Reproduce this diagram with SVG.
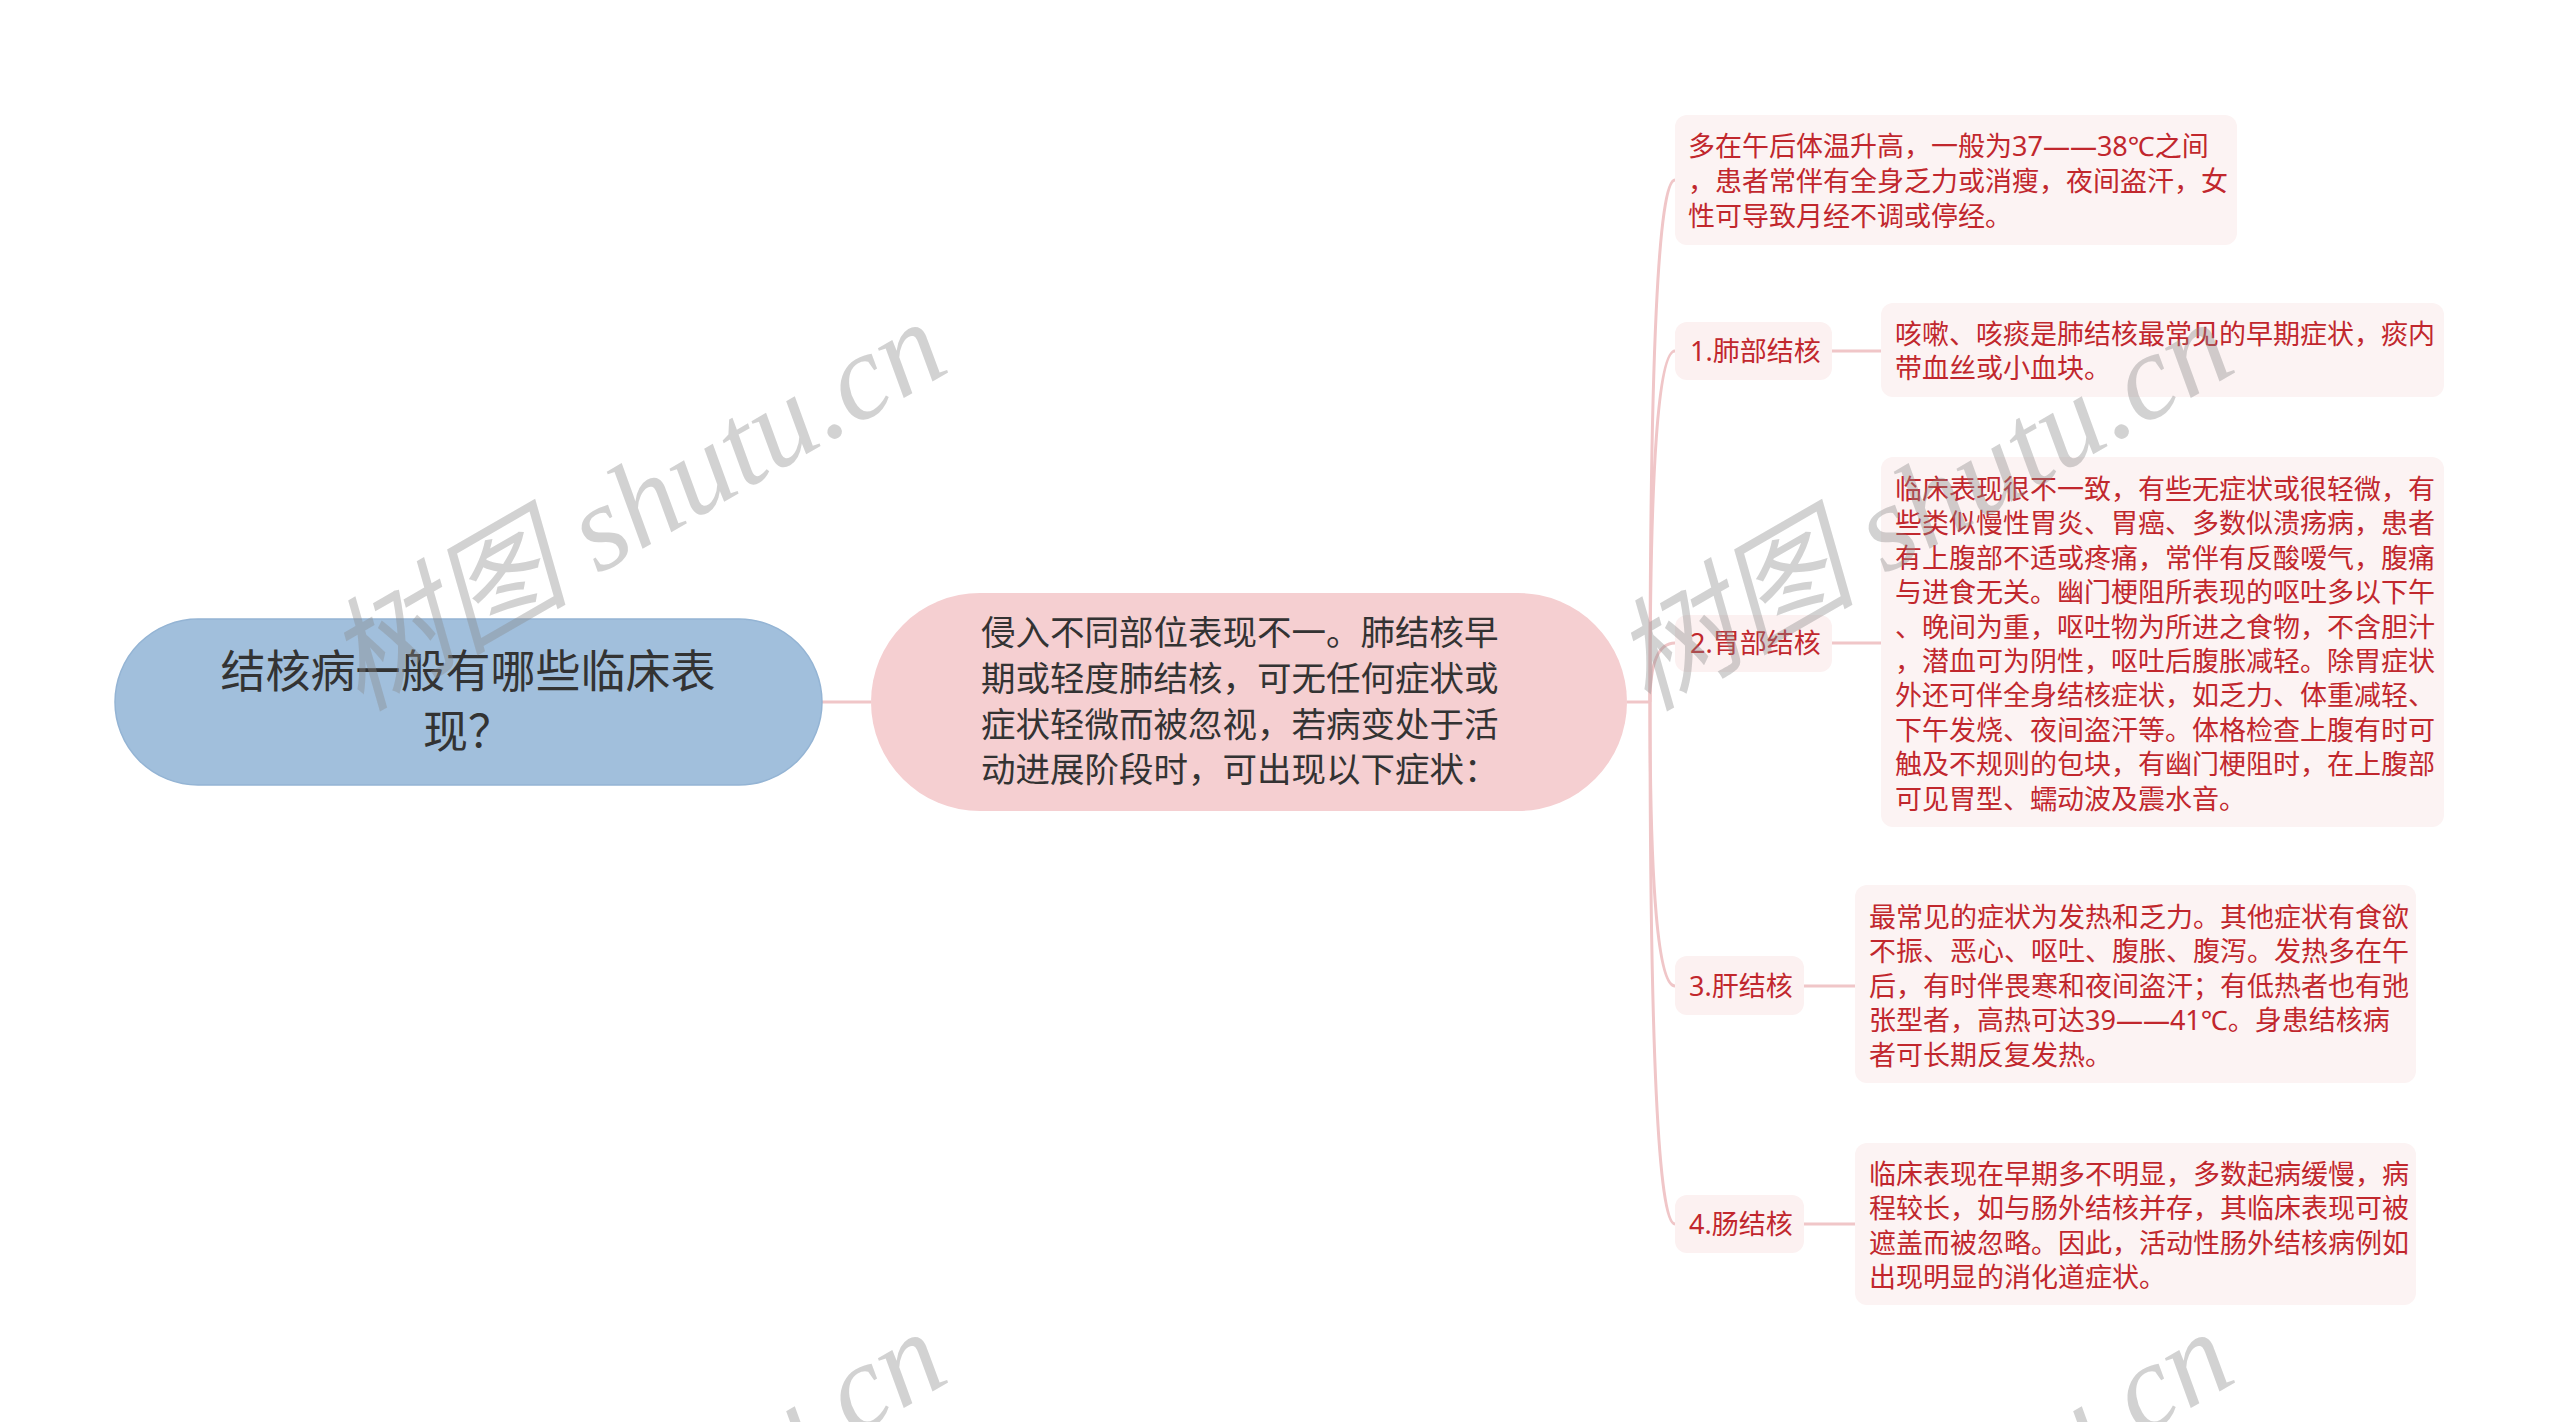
<svg xmlns="http://www.w3.org/2000/svg" width="2560" height="1422" viewBox="0 0 2560 1422">
<style>
.bg{fill:#ffffff}
.conn{fill:none;stroke:#f0c6c8;stroke-width:3}
.root{fill:#a1bfdc;stroke:#94b4d4;stroke-width:1.5}
.center{fill:#f5cfd1}
.lab{fill:#fcf1f1}
.box{fill:#fcf3f3}
.t{font-family:"Noto Sans","Noto Sans CJK SC",sans-serif}
.dark{fill:#333333}
.red{fill:#c1272d;font-size:27px}
.wm{font-family:"Liberation Serif","Noto Sans CJK SC",serif;font-style:italic;font-size:122px;fill:#888888;fill-opacity:0.38}
</style>
<rect class="bg" x="0" y="0" width="2560" height="1422"/>
<g id="connectors">
<path class="conn" d="M822 702 H871"/>
<path class="conn" d="M1627 702 H1650"/>
<path class="conn" d="M1650 702 Q1650 180 1675 180"/>
<path class="conn" d="M1650 702 Q1650 351 1675 351"/>
<path class="conn" d="M1650 702 Q1650 643 1675 643"/>
<path class="conn" d="M1650 702 Q1650 986 1675 986"/>
<path class="conn" d="M1650 702 Q1650 1224 1675 1224"/>
<path class="conn" d="M1832 351 H1881"/>
<path class="conn" d="M1832 643 H1881"/>
<path class="conn" d="M1804 986 H1855"/>
<path class="conn" d="M1804 1224 H1855"/>
</g>
<g id="root">
<rect class="root" x="115" y="619" width="707" height="166" rx="83"/>
<text class="t dark" font-size="45" text-anchor="middle"><tspan x="468" y="688">结核病一般有哪些临床表</tspan><tspan x="468" y="748">现？</tspan></text>
</g>
<g id="center">
<rect class="center" x="871" y="593" width="756" height="218" rx="109"/>
<text class="t dark" font-size="34.5"><tspan x="981" y="645">侵入不同部位表现不一。肺结核早</tspan><tspan x="981" y="691">期或轻度肺结核，可无任何症状或</tspan><tspan x="981" y="737">症状轻微而被忽视，若病变处于活</tspan><tspan x="981" y="782">动进展阶段时，可出现以下症状：</tspan></text>
</g>
<g id="n0">
<rect class="box" x="1675" y="115" width="562" height="130" rx="12"/>
<text class="t red"><tspan x="1688" y="156">多在午后体温升高，一般为37——38℃之间</tspan><tspan x="1688" y="191">，患者常伴有全身乏力或消瘦，夜间盗汗，女</tspan><tspan x="1688" y="226">性可导致月经不调或停经。</tspan></text>
</g>
<g id="n1">
<rect class="lab" x="1675" y="322" width="157" height="58" rx="12"/>
<text class="t red" x="1690" y="361">1.肺部结核</text>
</g>
<g id="n1c">
<rect class="box" x="1881" y="303" width="563" height="94" rx="12"/>
<text class="t red"><tspan x="1895" y="344">咳嗽、咳痰是肺结核最常见的早期症状，痰内</tspan><tspan x="1895" y="378">带血丝或小血块。</tspan></text>
</g>
<g id="n2">
<rect class="lab" x="1675" y="615" width="157" height="57" rx="12"/>
<text class="t red" x="1690" y="653">2.胃部结核</text>
</g>
<g id="n2c">
<rect class="box" x="1881" y="457" width="563" height="370" rx="12"/>
<text class="t red"><tspan x="1895" y="499">临床表现很不一致，有些无症状或很轻微，有</tspan><tspan x="1895" y="533.4">些类似慢性胃炎、胃癌、多数似溃疡病，患者</tspan><tspan x="1895" y="567.8">有上腹部不适或疼痛，常伴有反酸嗳气，腹痛</tspan><tspan x="1895" y="602.2">与进食无关。幽门梗阻所表现的呕吐多以下午</tspan><tspan x="1895" y="636.6">、晚间为重，呕吐物为所进之食物，不含胆汁</tspan><tspan x="1895" y="671">，潜血可为阴性，呕吐后腹胀减轻。除胃症状</tspan><tspan x="1895" y="705.4">外还可伴全身结核症状，如乏力、体重减轻、</tspan><tspan x="1895" y="739.8">下午发烧、夜间盗汗等。体格检查上腹有时可</tspan><tspan x="1895" y="774.2">触及不规则的包块，有幽门梗阻时，在上腹部</tspan><tspan x="1895" y="808.6">可见胃型、蠕动波及震水音。</tspan></text>
</g>
<g id="n3">
<rect class="lab" x="1675" y="956" width="129" height="59" rx="12"/>
<text class="t red" x="1689" y="996">3.肝结核</text>
</g>
<g id="n3c">
<rect class="box" x="1855" y="885" width="561" height="198" rx="12"/>
<text class="t red"><tspan x="1869" y="927">最常见的症状为发热和乏力。其他症状有食欲</tspan><tspan x="1869" y="961.4">不振、恶心、呕吐、腹胀、腹泻。发热多在午</tspan><tspan x="1869" y="995.8">后，有时伴畏寒和夜间盗汗；有低热者也有弛</tspan><tspan x="1869" y="1030.2">张型者，高热可达39——41℃。身患结核病</tspan><tspan x="1869" y="1064.6">者可长期反复发热。</tspan></text>
</g>
<g id="n4">
<rect class="lab" x="1675" y="1195" width="129" height="58" rx="12"/>
<text class="t red" x="1689" y="1234">4.肠结核</text>
</g>
<g id="n4c">
<rect class="box" x="1855" y="1143" width="561" height="162" rx="12"/>
<text class="t red"><tspan x="1869" y="1184">临床表现在早期多不明显，多数起病缓慢，病</tspan><tspan x="1869" y="1218.4">程较长，如与肠外结核并存，其临床表现可被</tspan><tspan x="1869" y="1252.8">遮盖而被忽略。因此，活动性肠外结核病例如</tspan><tspan x="1869" y="1287.2">出现明显的消化道症状。</tspan></text>
</g>
<g id="watermarks">
<text class="wm" transform="translate(360,712) rotate(-30)">树图 shutu.cn</text>
<text class="wm" transform="translate(1647,712) rotate(-30)">树图 shutu.cn</text>
<text class="wm" transform="translate(360,1722) rotate(-30)">树图 shutu.cn</text>
<text class="wm" transform="translate(1647,1722) rotate(-30)">树图 shutu.cn</text>
</g>
</svg>
